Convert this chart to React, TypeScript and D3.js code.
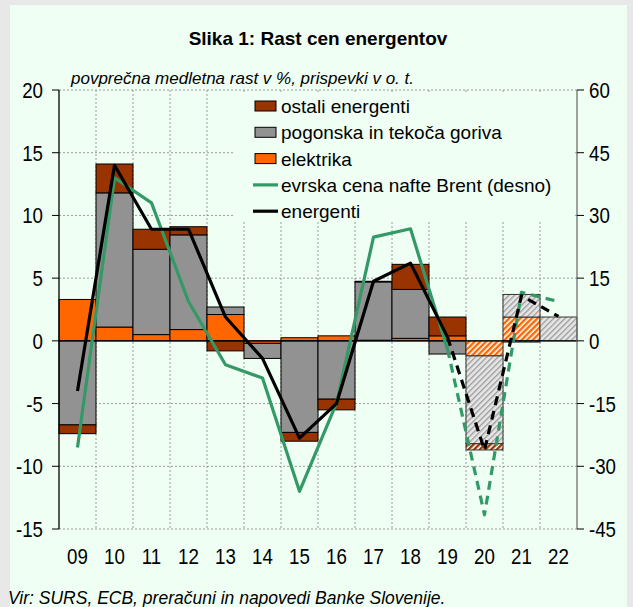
import React from "react";
import * as d3 from "d3";

const years = ["09", "10", "11", "12", "13", "14", "15", "16", "17", "18", "19", "20", "21", "22"];
const elektrika = [3.3, 1.1, 0.5, 0.9, 2.1, -0.2, 0.25, 0.4, 0.05, 0.2, 0.4, -1.2, 1.9, 0];
const pogonska = [-6.7, 10.7, 6.8, 7.55, 0.6, -1.2, -7.3, -4.65, 4.65, 3.9, -1.05, -7.0, 1.8, 1.9];
const ostali = [-0.7, 2.3, 1.6, 0.65, -0.8, 0, -0.7, -0.85, 0.05, 2.0, 1.5, -0.5, -0.1, 0];
const energenti = [-4.0, 14.0, 8.9, 8.9, 1.9, -1.4, -7.75, -5.0, 4.75, 6.2, 0.3, -8.7, 3.6, 1.95];
const brent = [-25.5, 39, 33, 9.4, -5.7, -8.9, -36, -14.9, 24.8, 26.8, -2, -41.6, 11.6, 9.4];
const forecastFrom = 10; // index of "19": dashed from here on; hatched bars from "20"
const leftTicks = [20, 15, 10, 5, 0, -5, -10, -15];
const rightTicks = [60, 45, 30, 15, 0, -15, -30, -45];

const title = "Slika 1: Rast cen energentov";
const subtitle = "povprečna medletna rast v %, prispevki v o. t.";
const source = "Vir: SURS, ECB, preračuni in napovedi Banke Slovenije.";

const seriesNames = ["elektrika", "pogonska in tekoča goriva", "ostali energenti"];
const seriesColors = ["#FF6600", "#929292", "#993300"];
const seriesData = [elektrika, pogonska, ostali];

const FONT = "'Liberation Sans', Arial, sans-serif";

export default function App() {
  const W = 633, H = 607;
  const L = 59, R = 577, T = 90, B = 529;
  const x = d3.scaleBand<string>().domain(years).range([L, R]).padding(0);
  const yL = d3.scaleLinear().domain([-15, 20]).range([B, T]);
  const yR = d3.scaleLinear().domain([-45, 60]).range([B, T]);
  const cx = (i: number) => (x(years[i]) as number) + x.bandwidth() / 2;

  const segs: { i: number; s: number; y0: number; y1: number }[] = [];
  years.forEach((_, i) => {
    let pos = 0, neg = 0;
    seriesData.forEach((arr, s) => {
      const v = arr[i];
      if (v === 0) return;
      if (v > 0) {
        segs.push({ i, s, y0: pos, y1: pos + v });
        pos += v;
      } else {
        segs.push({ i, s, y0: neg, y1: neg + v });
        neg += v;
      }
    });
  });

  const solidIdx = d3.range(0, forecastFrom + 1);
  const dashIdx = d3.range(forecastFrom, years.length);
  const pathOf = (arr: number[], idx: number[], scale: any) =>
    d3.line<number>().x((i) => cx(i)).y((i) => scale(arr[i]))(idx) as string;

  const patIds = ["hatchEl", "hatchPog", "hatchOst"];
  const boundaries = years.slice(1).map((y) => x(y) as number);
  const SX = 0.85;
  const TS = 22;

  return (
    <svg width={W} height={H} style={{ position: "absolute", left: 0, top: 0 }} fontFamily={FONT}>
      <defs>
        <pattern id="hatchEl" width="4" height="4" patternUnits="userSpaceOnUse" patternTransform="rotate(45)">
          <rect width="4" height="4" fill="#FFFFFF" />
          <rect width="2.4" height="4" fill="#FF6600" />
        </pattern>
        <pattern id="hatchPog" width="4" height="4" patternUnits="userSpaceOnUse" patternTransform="rotate(45)">
          <rect width="4" height="4" fill="#E6E6E6" />
          <rect width="1.3" height="4" fill="#9A9A9A" />
        </pattern>
        <pattern id="hatchOst" width="4" height="4" patternUnits="userSpaceOnUse" patternTransform="rotate(45)">
          <rect width="4" height="4" fill="#FFFFFF" />
          <rect width="2.4" height="4" fill="#993300" />
        </pattern>
      </defs>
      <rect x={0} y={0} width={W} height={H} fill="#E8E8E8" />
      <rect x={10} y={5} width={617} height={H - 5} fill="#F0FFF4" />

      <text x={318} y={45} textAnchor="middle" fontSize={19} fontWeight="bold" fill="#000">
        {title}
      </text>
      <text x={71} y={84} fontSize={17} fontStyle="italic" fill="#000">
        {subtitle}
      </text>

      {leftTicks.filter((t) => t !== 0).map((t) => (
        <line key={"h" + t} x1={L} x2={R} y1={yL(t)} y2={yL(t)} stroke="#9A9A9A" strokeWidth={1} strokeDasharray="2,2" />
      ))}
      {boundaries.map((bx, k) => (
        <line key={"v" + k} x1={bx} x2={bx} y1={T} y2={B} stroke="#9A9A9A" strokeWidth={1} strokeDasharray="2,2" />
      ))}

      <rect x={233} y={92} width={342} height={130} fill="#F0FFF4" />

      {segs.map((sg, k) => {
        const hatched = sg.i > forecastFrom;
        const top = yL(Math.max(sg.y0, sg.y1));
        const bot = yL(Math.min(sg.y0, sg.y1));
        return (
          <rect
            key={k}
            x={x(years[sg.i])}
            y={top}
            width={x.bandwidth()}
            height={bot - top}
            fill={hatched ? `url(#${patIds[sg.s]})` : seriesColors[sg.s]}
            stroke={hatched ? "#333" : "#000"}
            strokeWidth={1}
          />
        );
      })}

      <line x1={L} x2={R} y1={yL(0)} y2={yL(0)} stroke="#000" strokeWidth={1.3} />

      <path d={pathOf(brent, solidIdx, yR)} fill="none" stroke="#339966" strokeWidth={3.2} strokeLinejoin="round" />
      <path d={pathOf(brent, dashIdx, yR)} fill="none" stroke="#339966" strokeWidth={3.2} strokeDasharray="9,6" strokeLinejoin="round" />
      <path d={pathOf(energenti, solidIdx, yL)} fill="none" stroke="#000" strokeWidth={3.2} strokeLinejoin="round" />
      <path d={pathOf(energenti, dashIdx, yL)} fill="none" stroke="#000" strokeWidth={3.2} strokeDasharray="9,6" strokeLinejoin="round" />

      <line x1={L} x2={L} y1={T} y2={B} stroke="#000" strokeWidth={1.3} />
      <line x1={R} x2={R} y1={T} y2={B} stroke="#707070" strokeWidth={1.3} />
      {leftTicks.map((t) => (
        <g key={"lt" + t}>
          <line x1={L - 7} x2={L} y1={yL(t)} y2={yL(t)} stroke="#000" strokeWidth={1} />
          <text transform={`translate(43,${yL(t) + 8}) scale(${SX},1)`} textAnchor="end" fontSize={TS} fill="#000">
            {t}
          </text>
        </g>
      ))}
      {rightTicks.map((t) => (
        <g key={"rt" + t}>
          <line x1={R} x2={R + 7} y1={yR(t)} y2={yR(t)} stroke="#000" strokeWidth={1} />
          <text transform={`translate(589,${yR(t) + 8}) scale(${SX},1)`} textAnchor="start" fontSize={TS} fill="#000">
            {t}
          </text>
        </g>
      ))}
      {years.map((yr, i) => (
        <text key={"x" + yr} transform={`translate(${cx(i)},564) scale(${SX},1)`} textAnchor="middle" fontSize={TS} fill="#000">
          {yr}
        </text>
      ))}

      {[
        { name: seriesNames[2], color: seriesColors[2], type: "rect" },
        { name: seriesNames[1], color: seriesColors[1], type: "rect" },
        { name: seriesNames[0], color: seriesColors[0], type: "rect" },
        { name: "evrska cena nafte Brent (desno)", color: "#339966", type: "line" },
        { name: "energenti", color: "#000", type: "line" },
      ].map((it, k) => {
        const cy = 106 + k * 26.3;
        return (
          <g key={"lg" + k}>
            {it.type === "rect" ? (
              <rect x={255} y={cy - 5} width={21} height={10} fill={it.color} stroke="#000" strokeWidth={1} />
            ) : (
              <line x1={253} x2={278} y1={cy} y2={cy} stroke={it.color} strokeWidth={3.2} />
            )}
            <text x={281} y={cy + 7} fontSize={19} fill="#000">
              {it.name}
            </text>
          </g>
        );
      })}

      <text x={8} y={604} fontSize={17.5} fontStyle="italic" fill="#000">
        {source}
      </text>
    </svg>
  );
}
